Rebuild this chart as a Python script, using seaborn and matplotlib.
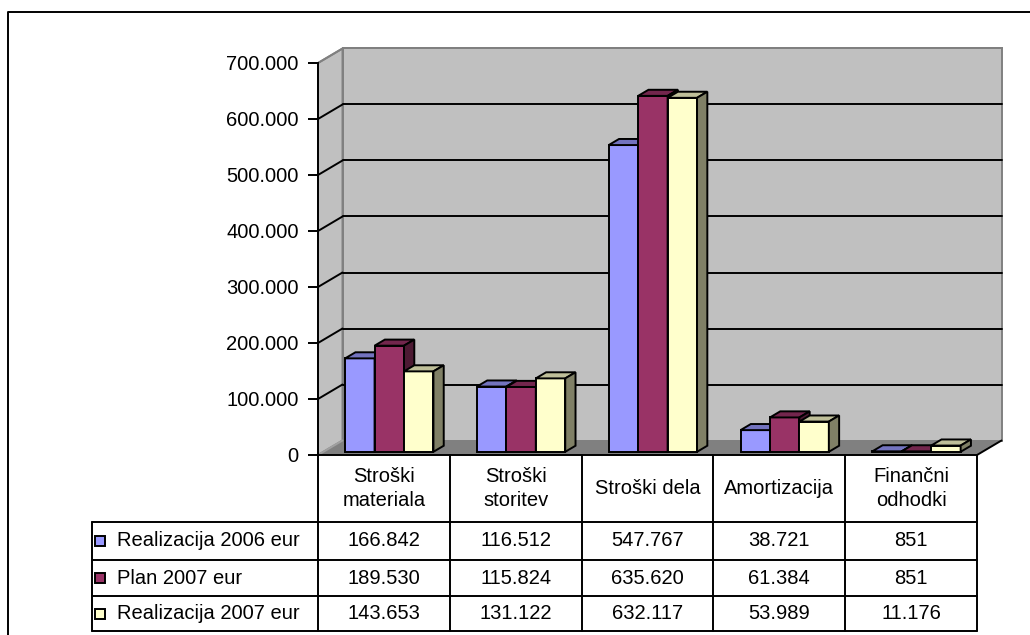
import matplotlib
matplotlib.use("Agg")
import matplotlib.pyplot as plt
from matplotlib.patches import Polygon
from matplotlib.lines import Line2D
from matplotlib.transforms import blended_transform_factory
import pandas as pd
import seaborn as sns

# ---- data ----
categories = ["Stroški\nmateriala", "Stroški\nstoritev", "Stroški dela",
              "Amortizacija", "Finančni\nodhodki"]
series_names = ["Realizacija 2006 eur", "Plan 2007 eur", "Realizacija 2007 eur"]
realizacija_2006 = [166842, 116512, 547767, 38721, 851]
plan_2007 = [189530, 115824, 635620, 61384, 851]
realizacija_2007 = [143653, 131122, 632117, 53989, 11176]
y_ticks = [0, 100000, 200000, 300000, 400000, 500000, 600000, 700000]
series_colors = ["#9999FF", "#993366", "#FFFFCC"]

series_values = [realizacija_2006, plan_2007, realizacija_2007]
df = pd.DataFrame(
    [(c, s, v) for s, vals in zip(series_names, series_values)
     for c, v in zip(categories, vals)],
    columns=["kategorija", "serija", "vrednost"],
)


def fmt(v):
    return f"{v:,}".replace(",", ".")


def shade(hex_color, f):
    r, g, b = matplotlib.colors.to_rgb(hex_color)
    return (r * f, g * f, b * f)


sns.set_style("white")
plt.rcParams["font.family"] = ["Liberation Sans", "DejaVu Sans"]
FS = 14.5
LW = 1.4

W, H = 1030, 635
fig = plt.figure(figsize=(W / 100, H / 100), dpi=100)

# front plane of the 3D box
X0, X1, Y0, Y1 = 318, 977, 455, 63
ax = fig.add_axes([X0 / W, 1 - Y0 / H, (X1 - X0) / W, (Y0 - Y1) / H])
ax.set_facecolor("none")

sns.barplot(data=df, x="kategorija", y="vrednost", hue="serija",
            order=categories, hue_order=series_names, palette=series_colors,
            saturation=1, width=0.67, edgecolor="black", linewidth=LW,
            legend=False, ax=ax, zorder=5)

ymax = y_ticks[-1]
ax.set_xlim(-0.5, len(categories) - 0.5)
ax.set_ylim(0, ymax)

# pixel sizes of one data unit
ppx = (X1 - X0) / len(categories)
ppy = (Y0 - Y1) / ymax

# depth vector of the floor, in pixels then data units
DPX, DPY = 24.5, 14.5
dxd, dyd = DPX / ppx, DPY / ppy

xl, xr = -0.5, len(categories) - 0.5

# walls and floor
back = Polygon([(xl + dxd, dyd), (xr + dxd, dyd), (xr + dxd, ymax + dyd), (xl + dxd, ymax + dyd)],
               closed=True, facecolor="#C0C0C0", edgecolor="#808080", lw=LW, zorder=1, clip_on=False)
side = Polygon([(xl, 0), (xl + dxd, dyd), (xl + dxd, ymax + dyd), (xl, ymax)],
               closed=True, facecolor="#C0C0C0", edgecolor="#808080", lw=LW, zorder=1, clip_on=False)
floor = Polygon([(xl, 0), (xr, 0), (xr + dxd, dyd), (xl + dxd, dyd)],
                closed=True, facecolor="#808080", edgecolor="none", zorder=1.5, clip_on=False)
for p in (back, side, floor):
    ax.add_patch(p)
ax.add_line(Line2D([xl, xl + dxd], [0, dyd], color="#A0A0A0", lw=LW, zorder=1.6, clip_on=False))
ax.add_line(Line2D([xr, xr + dxd], [0, dyd], color="black", lw=LW, zorder=1.6, clip_on=False))

# gridlines on the back wall and the side wall
for t in y_ticks[1:]:
    col = "black" if t < ymax else "#808080"
    ax.add_line(Line2D([xl + dxd, xr + dxd], [t + dyd, t + dyd], color=col, lw=LW, zorder=2, clip_on=False))
    ax.add_line(Line2D([xl, xl + dxd], [t, t + dyd], color=col, lw=LW, zorder=2, clip_on=False))

# turn the flat bars into boxes
F0, F1 = 0.22, 0.64
bars = sorted([p for p in ax.patches if p.get_zorder() == 5], key=lambda p: p.get_x())
for i, b in enumerate(bars):
    face = b.get_facecolor()
    x0 = b.get_x() + F0 * dxd
    w = b.get_width()
    h = b.get_height()
    y0 = F0 * dyd
    b.set_x(x0)
    b.set_y(y0)
    z = 5 + i * 0.01
    b.set_zorder(z)
    b.set_clip_on(False)
    x1 = x0 + w
    top = y0 + h
    ddx, ddy = (F1 - F0) * dxd, (F1 - F0) * dyd
    top_face = Polygon([(x0, top), (x1, top), (x1 + ddx, top + ddy), (x0 + ddx, top + ddy)],
                       closed=True, facecolor=shade(face, 0.75), edgecolor="black", lw=LW,
                       zorder=z + 0.001, clip_on=False, joinstyle="miter")
    side_face = Polygon([(x1, y0), (x1 + ddx, y0 + ddy), (x1 + ddx, top + ddy), (x1, top)],
                        closed=True, facecolor=shade(face, 0.5), edgecolor="black", lw=LW,
                        zorder=z + 0.002, clip_on=False, joinstyle="miter")
    ax.add_patch(top_face)
    ax.add_patch(side_face)

# value axis
for s in ("top", "right", "bottom"):
    ax.spines[s].set_visible(False)
ax.spines["left"].set_color("black")
ax.spines["left"].set_linewidth(LW)
ax.spines["left"].set_zorder(10)
ax.set_yticks(y_ticks)
ax.set_yticklabels([fmt(t) for t in y_ticks])
ax.tick_params(axis="y", direction="out", length=7, width=LW, pad=7,
               labelsize=FS, colors="black", left=True)
ax.set_xticks([])
ax.set_xlabel("")
ax.set_ylabel("")

# ---- data table ----
def fy(y):
    return 1 - y / H


def fx(x):
    return x / W


col_tr = blended_transform_factory(ax.transData, fig.transFigure)
TBL_LEFT = 92
ROWS = [455, 522, 560, 596, 631]

# column borders follow the category scale of the axes
for k in range(len(categories) + 1):
    xb = k - 0.5
    fig.add_artist(Line2D([xb, xb], [fy(ROWS[0]), fy(ROWS[-1])], transform=col_tr,
                          color="black", lw=LW))
fig.add_artist(Line2D([xl, xr], [fy(ROWS[0]), fy(ROWS[0])], transform=col_tr, color="black", lw=LW))
for r in ROWS[1:]:
    fig.add_artist(Line2D([fx(TBL_LEFT), fx(X1)], [fy(r), fy(r)], color="black", lw=LW))
fig.add_artist(Line2D([fx(TBL_LEFT), fx(TBL_LEFT)], [fy(ROWS[1]), fy(ROWS[-1])], color="black", lw=LW))

# header cells
for k, c in enumerate(categories):
    fig.text(k, fy((ROWS[0] + ROWS[1]) / 2), c, transform=col_tr, ha="center", va="center",
             fontsize=FS, linespacing=1.35, color="black")

# series rows
for j, (name, vals, colr) in enumerate(zip(series_names, series_values, series_colors)):
    yc = (ROWS[j + 1] + ROWS[j + 2]) / 2
    key = matplotlib.patches.Rectangle((fx(95), fy(yc + 5)), 10 / W, 10 / H,
                                       transform=fig.transFigure, facecolor=colr,
                                       edgecolor="black", lw=LW)
    fig.add_artist(key)
    fig.text(fx(117), fy(yc), name, ha="left", va="center", fontsize=FS, color="black")
    for k, v in enumerate(vals):
        fig.text(k, fy(yc), fmt(v), transform=col_tr, ha="center", va="center",
                 fontsize=FS, color="black")

# chart frame
fig.add_artist(Line2D([fx(8), fx(8), fx(W)], [0, fy(12), fy(12)], color="black", lw=LW))

fig.savefig("out.png", dpi=100)
